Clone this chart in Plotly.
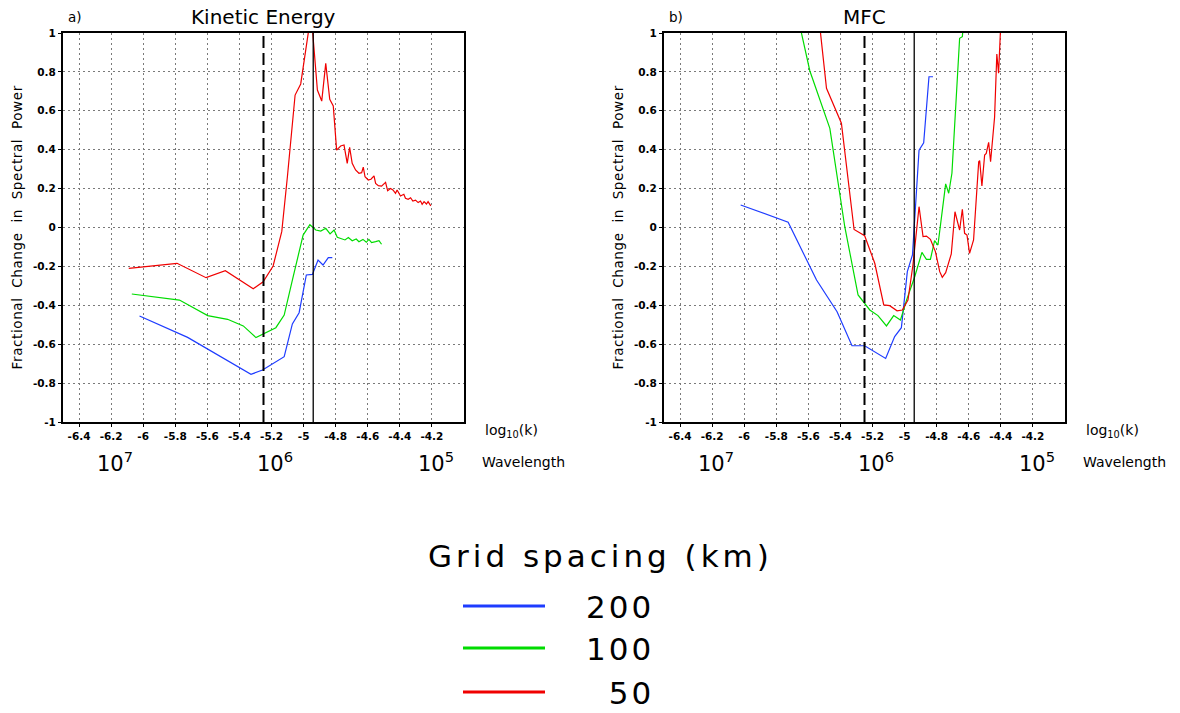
import numpy as np
import plotly.graph_objects as go

# ---------------- data ----------------
# Panel a) Kinetic Energy : x = log10(k), y = fractional change in spectral power
ke_200_x = [-6.023, -5.723, -5.328, -5.256, -5.121, -5.070, -5.028, -4.983, -4.945, -4.910, -4.879, -4.846, -4.821]
ke_200_y = [-0.455, -0.565, -0.755, -0.733, -0.664, -0.496, -0.438, -0.244, -0.241, -0.167, -0.193, -0.155, -0.155]

ke_100_x = [-6.071, -5.774, -5.598, -5.474, -5.376, -5.297, -5.173, -5.121, -5.070, -5.003, -4.961, -4.924,
            -4.893, -4.862, -4.835, -4.810, -4.790, -4.769, -4.742, -4.721, -4.697, -4.672, -4.655, -4.630,
            -4.609, -4.593, -4.576, -4.551, -4.530, -4.514]
ke_100_y = [-0.342, -0.373, -0.453, -0.472, -0.506, -0.566, -0.515, -0.450, -0.270, -0.039, 0.014, -0.013,
            -0.018, -0.004, -0.033, -0.013, -0.050, -0.056, -0.064, -0.052, -0.068, -0.059, -0.073, -0.061,
            -0.076, -0.061, -0.078, -0.073, -0.068, -0.086]

ke_50_x = [-6.090, -5.789, -5.608, -5.488, -5.314, -5.252, -5.190, -5.136, -5.101, -5.053, -5.018, -4.997,
           -4.953, -4.914, -4.887, -4.862, -4.837, -4.815, -4.794, -4.769, -4.748, -4.728, -4.713, -4.697,
           -4.676, -4.655, -4.638, -4.628, -4.617, -4.597, -4.580, -4.561, -4.551, -4.534, -4.514, -4.489,
           -4.476, -4.458, -4.443, -4.427, -4.417, -4.396, -4.375, -4.365, -4.348, -4.333, -4.319, -4.302,
           -4.286, -4.271, -4.261, -4.249, -4.234, -4.224, -4.207]
ke_50_y = [-0.210, -0.184, -0.258, -0.222, -0.315, -0.279, -0.198, -0.020, 0.261, 0.681, 0.738, 0.844,
           1.100, 0.707, 0.650, 0.844, 0.659, 0.625, 0.398, 0.419, 0.424, 0.330, 0.412, 0.330,
           0.296, 0.279, 0.282, 0.310, 0.261, 0.244, 0.248, 0.265, 0.227, 0.215, 0.213, 0.232,
           0.189, 0.201, 0.193, 0.176, 0.193, 0.162, 0.171, 0.150, 0.145, 0.153, 0.136, 0.141,
           0.128, 0.136, 0.119, 0.133, 0.121, 0.133, 0.111]

# Panel b) MFC
mfc_200_x = [-6.022, -5.726, -5.549, -5.421, -5.328, -5.249, -5.118, -5.062, -5.020, -4.983, -4.951, -4.910,
             -4.881, -4.848, -4.823]
mfc_200_y = [0.116, 0.027, -0.270, -0.433, -0.608, -0.608, -0.673, -0.561, -0.515, -0.227, -0.141, 0.398,
             0.436, 0.775, 0.775]

mfc_100_x = [-5.670, -5.591, -5.466, -5.373, -5.290, -5.217, -5.166, -5.113, -5.068, -5.026, -4.989, -4.937,
             -4.892, -4.864, -4.839, -4.813, -4.792, -4.744, -4.725, -4.705, -4.657, -4.640, -4.630]
mfc_100_y = [1.100, 0.806, 0.510, 0.004, -0.347, -0.424, -0.453, -0.506, -0.453, -0.476, -0.376, -0.253,
             -0.128, -0.164, -0.164, -0.068, -0.090, 0.224, 0.176, 0.279, 0.973, 0.981, 1.080]

mfc_50_x = [-5.540, -5.487, -5.394, -5.315, -5.249, -5.186, -5.130, -5.093, -5.047, -5.014, -4.979, -4.948,
            -4.910, -4.885, -4.864, -4.839, -4.808, -4.781, -4.765, -4.744, -4.709, -4.686, -4.657, -4.640,
            -4.626, -4.611, -4.595, -4.570, -4.538, -4.532, -4.518, -4.501, -4.491, -4.476, -4.464, -4.439,
            -4.425, -4.414, -4.403, -4.398]
mfc_50_y = [1.120, 0.716, 0.536, -0.010, -0.042, -0.184, -0.398, -0.402, -0.428, -0.424, -0.373, -0.193,
            0.107, -0.047, -0.044, -0.061, -0.124, -0.227, -0.256, -0.232, -0.136, 0.081, -0.013, 0.094,
            -0.030, -0.039, -0.133, -0.064, 0.338, 0.344, 0.213, 0.373, 0.381, 0.438, 0.338, 0.567,
            0.892, 0.793, 1.000, 1.080]

series_names = ["200", "100", "50"]
series_colors = ["rgb(30,60,255)", "rgb(0,220,0)", "rgb(240,0,0)"]
panel_titles = ["Kinetic Energy", "MFC"]
panel_letters = ["a)", "b)"]

logk_ticks = [-6.4, -6.2, -6.0, -5.8, -5.6, -5.4, -5.2, -5.0, -4.8, -4.6, -4.4, -4.2]
logk_ticklabels = ["-6.4", "-6.2", "-6", "-5.8", "-5.6", "-5.4", "-5.2", "-5", "-4.8", "-4.6", "-4.4", "-4.2"]
y_ticks = [-1.0, -0.8, -0.6, -0.4, -0.2, 0.0, 0.2, 0.4, 0.6, 0.8, 1.0]
y_ticklabels = ["-1", "-0.8", "-0.6", "-0.4", "-0.2", "0", "0.2", "0.4", "0.6", "0.8", "1"]

wavelengths = [1e7, 1e6, 1e5]
wavelength_labels = ["10<sup>7</sup>", "10<sup>6</sup>", "10<sup>5</sup>"]

dashed_logk = -5.25
solid_logk = -4.94

x_range = [-6.5, -4.0]
y_range = [-1.0, 1.0]

# ---------------- figure ----------------
W, H = 1180, 713
FONT = "DejaVu Sans"

fig = go.Figure()

panels = [
    [(ke_200_x, ke_200_y), (ke_100_x, ke_100_y), (ke_50_x, ke_50_y)],
    [(mfc_200_x, mfc_200_y), (mfc_100_x, mfc_100_y), (mfc_50_x, mfc_50_y)],
]

for p, series in enumerate(panels):
    xa = "x" if p == 0 else "x2"
    ya = "y" if p == 0 else "y2"
    for (xs, ys), name, col in zip(series, series_names, series_colors):
        fig.add_trace(go.Scatter(x=xs, y=ys, mode="lines", name=name,
                                 line=dict(color=col, width=1.2),
                                 xaxis=xa, yaxis=ya, showlegend=False))

px_x = lambda v: v / W
px_y = lambda v: 1 - v / H

x_domains = [[px_x(63), px_x(464)], [px_x(664), px_x(1065)]]
y_domain = [px_y(422), px_y(33)]

grid_common = dict(showgrid=True, gridcolor="#7a7a7a", gridwidth=1, griddash="2px,3px",
                   showline=True, linecolor="black", linewidth=2, mirror=True,
                   ticks="outside", ticklen=3, tickcolor="black", tickwidth=1,
                   zeroline=False, automargin=False,
                   tickfont=dict(family=FONT, size=10.5, color="black", weight="bold"))

for p in range(2):
    sx = "" if p == 0 else "2"
    fig.update_layout(**{
        "xaxis" + sx: dict(domain=x_domains[p], range=x_range, anchor="y" + sx,
                           tickmode="array", tickvals=logk_ticks, ticktext=logk_ticklabels,
                           **grid_common),
        "yaxis" + sx: dict(domain=y_domain, range=y_range, anchor="x" + sx,
                           tickmode="array", tickvals=y_ticks, ticktext=y_ticklabels,
                           **grid_common),
    })

shapes = []
annotations = []
for p in range(2):
    sx = "" if p == 0 else "2"
    xr = "x" + sx
    yr = "y" + sx
    # reference lines
    shapes.append(dict(type="line", xref=xr, yref=yr + " domain", x0=dashed_logk, x1=dashed_logk,
                       y0=0, y1=1, line=dict(color="black", width=2, dash="12px,5px")))
    shapes.append(dict(type="line", xref=xr, yref=yr + " domain", x0=solid_logk, x1=solid_logk,
                       y0=0, y1=1, line=dict(color="black", width=1.3)))
    # title and panel letter
    annotations.append(dict(text=panel_titles[p], xref=xr + " domain", yref=yr + " domain",
                            x=0.5, y=1.041, xanchor="center", yanchor="middle", showarrow=False,
                            font=dict(family=FONT, size=20, color="black")))
    annotations.append(dict(text=panel_letters[p], xref=xr + " domain", yref=yr + " domain",
                            x=0.008, y=1.041, xanchor="left", yanchor="middle", showarrow=False,
                            font=dict(family=FONT, size=13.5, color="black")))
    # y-axis title
    annotations.append(dict(text='<span style="letter-spacing:0.6px">Fractional  Change  in  Spectral  Power</span>',
                            xref=xr + " domain", yref=yr + " domain",
                            x=-0.115, y=0.5, xanchor="center", yanchor="middle", textangle=-90,
                            showarrow=False, font=dict(family=FONT, size=13.5, color="black")))
    # log10(k) label
    annotations.append(dict(text="log<sub>10</sub>(k)", xref=xr + " domain", yref=yr + " domain",
                            x=1.047, y=-0.022, xanchor="left", yanchor="middle", showarrow=False,
                            font=dict(family=FONT, size=14, color="black")))
    # wavelength axis
    annotations.append(dict(text="Wavelength", xref=xr + " domain", yref=yr + " domain",
                            x=1.039, y=-0.103, xanchor="left", yanchor="middle", showarrow=False,
                            font=dict(family=FONT, size=14, color="black")))
    for lam, lab in zip(wavelengths, wavelength_labels):
        annotations.append(dict(text=lab, xref=xr, yref=yr + " domain",
                                x=float(np.log10(2 * np.pi / lam)), y=-0.103,
                                xanchor="center", yanchor="middle", xshift=4, showarrow=False,
                                font=dict(family=FONT, size=21, color="black")))

# legend (drawn manually: long keys like the original)
annotations.append(dict(text='<span style="letter-spacing:4px">Grid spacing (km)</span>',
                        xref="paper", yref="paper", x=px_x(600), y=px_y(556),
                        xanchor="center", yanchor="middle", showarrow=False,
                        font=dict(family=FONT, size=31, color="black")))
legend_rows_y = [606, 648, 692]
legend_texts = ["200", "100", "\u200750"]
for ry, txt, col in zip(legend_rows_y, legend_texts, series_colors):
    shapes.append(dict(type="line", xref="paper", yref="paper",
                       x0=px_x(463), x1=px_x(545), y0=px_y(ry), y1=px_y(ry),
                       line=dict(color=col, width=3)))
    annotations.append(dict(text='<span style="letter-spacing:3px">' + txt + '</span>',
                            xref="paper", yref="paper", x=px_x(656), y=px_y(ry + 1),
                            xanchor="right", yanchor="middle", showarrow=False,
                            font=dict(family=FONT, size=31, color="black")))

fig.update_layout(width=W, height=H, margin=dict(l=0, r=0, t=0, b=0, autoexpand=False),
                  paper_bgcolor="white", plot_bgcolor="white",
                  shapes=shapes, annotations=annotations, showlegend=False)

fig.write_html("out.html", config={"displayModeBar": False},
               post_script="document.body.style.margin='0px';document.body.style.overflow='hidden';")
